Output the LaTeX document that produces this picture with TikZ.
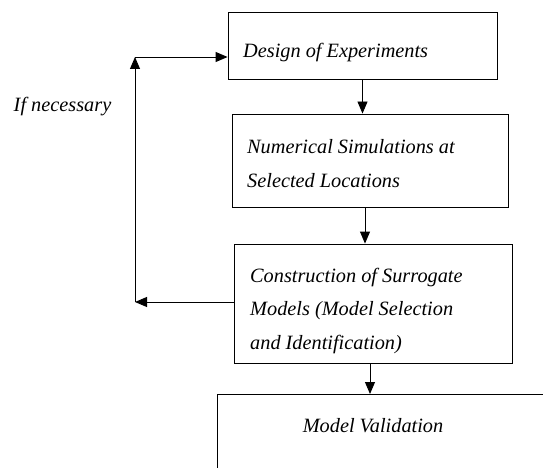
\documentclass[tikz,border=0pt]{standalone}
\usepackage{fontspec}
\setmainfont{Liberation Serif}
\usetikzlibrary{arrows.meta}

\begin{document}
\begin{tikzpicture}[x=1pt,y=-1pt,
  box/.style={draw,line width=0.9pt,inner sep=0pt},
  txt/.style={inner sep=0pt,align=left,font=\fontsize{20.3}{33.5}\selectfont\itshape},
  arr/.style={line width=0.9pt,-{Triangle[length=12pt,width=10pt]}}]
\useasboundingbox (0,0) rectangle (543,468);
\clip (0,0) rectangle (543,468);
% boxes
\node[box,minimum width=269pt,minimum height=67pt] (doe) at (362.5,45.5) {};
\node[box,minimum width=276pt,minimum height=93pt] (sim) at (370,160.5) {};
\node[box,minimum width=278pt,minimum height=119pt] (surr) at (373,303.5) {};
\node[box,minimum width=360pt,minimum height=120pt,anchor=north west] (valid) at (217,394) {};
% texts
\node[txt,anchor=west] (doetxt) at (243,53) {Design of Experiments};
\node[txt,anchor=west] (simtxt) at (247,163.5) {Numerical Simulations at\\Selected Locations};
\node[txt,anchor=west] (surrtxt) at (250,311) {Construction of Surrogate\\Models (Model Selection\\and Identification)};
\node[txt] (validtxt) at (373,426) {Model Validation};
\node[txt] (iftxt) at (62.5,107) {If necessary};
% main flow
\draw[arr] (doe.south) -- (doe.south |- sim.north);
\draw[arr] ([xshift=-5pt]sim.south) -- ([xshift=-5pt]sim.south |- surr.north);
\draw[arr] ([xshift=-3pt]surr.south) -- ([xshift=-3pt]surr.south |- valid.north);
% feedback loop
\coordinate (fb) at (135,302);
\coordinate (up) at (135,57);
\draw[arr] (surr.west |- fb) -- (fb);
\draw[arr] (fb) -- (up);
\draw[arr] (up) -- (up -| doe.west);
\end{tikzpicture}
\end{document}
